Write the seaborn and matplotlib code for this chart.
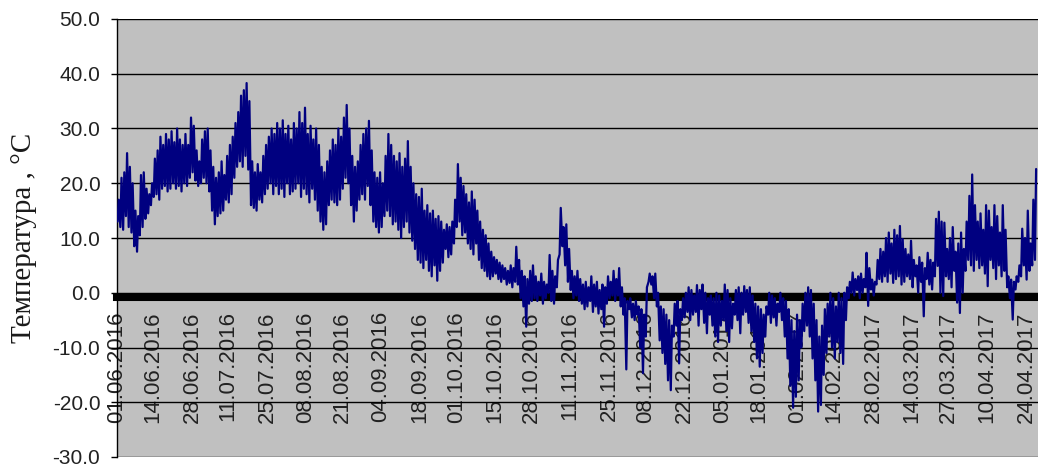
import pandas as pd
import matplotlib
matplotlib.use("Agg")
import matplotlib.pyplot as plt
import seaborn as sns
from matplotlib.ticker import FormatStrFormatter, MultipleLocator

# Daily max / min temperature, one value per day from 01.06.2016
day_high = [
    17, 21, 22, 25.5, 23, 20, 15, 14, 21.5, 22,
    19, 18, 20, 24.5, 26, 28.5, 27, 29, 28, 29.5,
    27.5, 30, 28, 27, 29, 27, 32, 30.5, 26, 24,
    28, 29.5, 30, 26, 23, 21, 22, 24, 21.5, 25,
    27, 28.5, 31, 33, 36, 37, 38.3, 35, 24, 22,
    23.5, 22, 25, 27, 28.5, 30, 29, 31, 30, 31.5,
    29, 30.5, 28, 31, 30, 33, 31, 33.8, 29, 30.5,
    28, 30, 27, 23, 22, 24, 26, 28, 27, 30,
    28.5, 32, 34.3, 30, 25, 23, 24, 27, 29, 30,
    31.4, 26, 22, 21, 22, 20, 25, 29, 27, 25,
    24, 25.5, 23, 24.5, 27.7, 23, 20, 18, 17.5, 19,
    15, 16, 14.5, 15, 13.5, 14, 13, 11.5, 12.5, 12,
    13, 17, 23.5, 21, 19.5, 18, 16.5, 18.5, 17, 15,
    13, 11.5, 10.5, 9, 7.5, 6.5, 6, 5.5, 5, 4.5,
    4, 5, 4.5, 8.4, 6, 4, 3, 2.5, 4, 5,
    3, 2, 3.5, 2, 1.5, 6.9, 4, 3, 6, 15.5,
    12, 12.5, 8, 4, 3, 4, 2.5, 1.5, 2, 1,
    3, 1.5, 2, 0.5, 1.5, 1, 3, 2, 4, 2.5,
    4.5, 1, -1, -1.5, -1, -2, -1.5, -2.5, -3, -4,
    1, 3.5, 3, 3.5, 0, -2.5, -3, -4, -5, -6,
    -2, -1.5, -3, -1, 0, 1, 0.5, -0.5, 1.4, 0.5,
    1.5, 0, -1, -0.5, -1, 0, -0.5, -1.5, 1.5, 0.5,
    -1, -2, 0.5, 1, 0, 1.2, 0.5, 1, -0.5, -2,
    -2.5, -3, -4, -2.5, 0, -0.5, -1, -2, 0, -1,
    -1.5, -3, -5, -7, -4, -5, -2, 0, 1, 0.5,
    -2, -5, -8, -6, -3, -2, 0, -1, -2.5, 0,
    -1, 0, 1, 2, 3.7, 2.5, 3, 3.5, 2.5, 7.3,
    4.5, 2.4, 2, 6, 8, 7.5, 10, 11, 9, 11.5,
    10.5, 12.2, 9.8, 8, 7, 9.5, 6, 5, 6.5, 5.5,
    4.5, 7.3, 6, 5.5, 13.5, 14.8, 13, 12.8, 8, 10,
    12, 7.5, 9, 11, 8, 13, 17.7, 21.6, 16, 13,
    14.5, 11.5, 16, 15, 12, 16, 14, 11, 16, 11.5,
    3, 2.4, 2, 3, 5, 11.7, 10, 15, 9, 17, 22.6,
]
day_low = [
    13, 12, 11.5, 14, 12, 11, 8.5, 7.5, 10.5, 12,
    13.5, 14.5, 16, 17.5, 18, 17, 19, 19.5, 18.5, 19,
    20, 19, 19.5, 18.5, 20, 19.5, 21, 22, 20.5, 19.5,
    20, 21, 20, 18.5, 15, 12.5, 14, 14.5, 15, 17,
    16.5, 18, 21, 23, 24, 23, 25, 22.5, 16, 15.5,
    15, 17, 16.5, 18, 19, 20, 18, 19.5, 18, 19,
    17.5, 20, 18, 18.5, 19, 20, 17.5, 19, 18, 16.5,
    19, 17, 15, 13, 11.5, 12.5, 16, 17, 16.5, 16,
    17, 19, 21, 20, 16, 13, 15, 17, 18, 17,
    19.5, 16, 13, 12, 11, 12, 14, 15, 14, 12.5,
    13, 11.5, 10, 12, 13, 11, 9.5, 8, 6, 5.5,
    4.5, 6, 4, 3, 5, 2.2, 4, 5.5, 8, 6.5,
    7, 9, 12, 13, 10.5, 11, 9, 8, 7, 9,
    6, 4.5, 4, 3, 2.5, 3, 3.5, 2.5, 2, 2.5,
    1.5, 1.8, 1, 2, 1.5, -1, -2.5, -6.2, -2, -1.5,
    -1, -1.5, -0.5, -2, -1, 0, -1.5, -2, 1, 7,
    8.5, 5, 2, 0.5, -1, -0.5, -1.5, -2, -3, -2.5,
    -1.5, -3.5, -2.5, -3.8, -3, -6.2, -2, -1, -0.5, -1.5,
    -0.5, -2.5, -4, -14, -3, -4.5, -5, -4, -10, -14.7,
    -8, 2, 1.5, -1, -2.5, -8.7, -11, -13, -16, -17.8,
    -8, -6, -12.9, -5, -4.5, -3.5, -5, -4, -3.5, -6,
    -3, -5.5, -7.4, -4, -6, -8, -9, -6, -5, -7,
    -9, -6.5, -4, -5, -7.4, -4, -3.5, -5.5, -7, -9,
    -12, -13.5, -11, -8, -4, -5.5, -4.5, -6, -3.5, -5,
    -8, -12, -17, -21, -19, -16, -10, -7, -6, -8,
    -12, -16, -21.7, -20.5, -15, -11, -8, -10, -12, -9,
    -11, -13, -5, -1, 0, -0.5, 0.5, -1, 0, 1,
    -2.4, 0.6, -0.5, 1.5, 2.5, 2, 3, 2, 3.5, 1.8,
    2.5, 3, 1.5, 2, 3, 2.5, 1, 3, 0, 2,
    -4.3, 2.5, 1.5, 0.6, 3, 4.9, 0, -0.6, 3, 2.5,
    1, 4, -1.8, -3.7, 0, 4, 6, 5, 4, 6,
    4.5, 5, 3.5, 1.2, 6, 4.5, 2.5, 5, 3, 4,
    1, -1, -4.9, 0.6, 2, 3, 5, 2.4, 4, 5, 6,
]

tick_labels = [
    "01.06.2016", "14.06.2016", "28.06.2016", "11.07.2016", "25.07.2016",
    "08.08.2016", "21.08.2016", "04.09.2016", "18.09.2016", "01.10.2016",
    "15.10.2016", "28.10.2016", "11.11.2016", "25.11.2016", "08.12.2016",
    "22.12.2016", "05.01.2017", "18.01.2017", "01.02.2017", "14.02.2017",
    "28.02.2017", "14.03.2017", "27.03.2017", "10.04.2017", "24.04.2017",
]

start = pd.Timestamp("2016-06-01")

# night minimum then afternoon maximum for each day
rows = []
for i, (lo, hi) in enumerate(zip(day_low, day_high)):
    rows.append({"time": start + pd.Timedelta(hours=24 * i + 5), "temp": lo})
    rows.append({"time": start + pd.Timedelta(hours=24 * i + 15), "temp": hi})
df = pd.DataFrame(rows)

sns.set_style("white")
plt.rcParams["font.family"] = ["Liberation Sans", "DejaVu Sans"]

W, H = 1038, 466
fig = plt.figure(figsize=(W / 100, H / 100), dpi=100)
ax = fig.add_axes([117 / W, 9 / H, (W - 117) / W, 438 / H])
ax.set_facecolor("#C0C0C0")
ax.set_axisbelow(True)

sns.lineplot(data=df, x="time", y="temp", color="#000080", linewidth=1.6,
             estimator=None, ax=ax, zorder=3)

ax.set_ylim(-30, 50)
ax.set_xlim(start, start + pd.Timedelta(days=331.3))
ax.yaxis.set_major_locator(MultipleLocator(10))
ax.yaxis.set_major_formatter(FormatStrFormatter("%.1f"))
ax.grid(axis="y", color="black", linewidth=1)
ax.grid(axis="x", visible=False)
ax.yaxis.get_gridlines()[0].set_color("#A0A0A0")

for s in ["top", "right"]:
    ax.spines[s].set_visible(False)
ax.spines["left"].set_color("black")
ax.spines["left"].set_linewidth(1)
# category axis crossing at zero, drawn heavy like the Excel original
ax.spines["bottom"].set_position(("data", -0.7))
ax.spines["bottom"].set_color("black")
ax.spines["bottom"].set_linewidth(5.8)

tick_pos = pd.to_datetime(tick_labels, format="%d.%m.%Y")
ax.set_xticks(tick_pos)
ax.set_xticklabels(tick_labels, rotation=90, fontsize=16, color="#222222")
ax.tick_params(axis="x", length=0, pad=10.5)
ax.tick_params(axis="y", direction="out", length=4.5, width=1, color="black",
               labelsize=15, labelcolor="#222222", pad=7.5, left=True)

ax.set_xlabel("")
ax.set_ylabel("Температура , °C", fontsize=21, family=["Liberation Serif", "DejaVu Serif"],
              color="#1a1a1a")
ax.yaxis.set_label_coords(-0.087, 0.5)

fig.savefig("out.png", dpi=100)
